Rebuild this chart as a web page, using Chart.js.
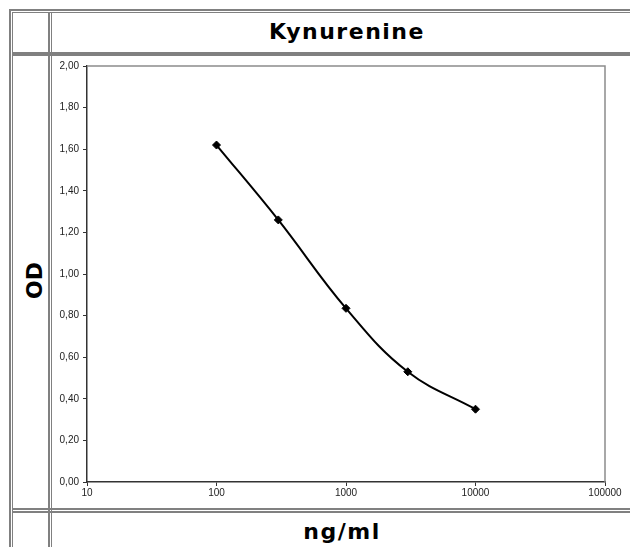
<!DOCTYPE html>
<html>
<head>
<meta charset="utf-8">
<script src="https://cdn.jsdelivr.net/npm/chart.js@4/dist/chart.umd.min.js"></script>
<style>
  body { margin: 0; background: #fff; overflow: hidden; }
  #page { position: relative; width: 630px; height: 547px; overflow: hidden; }
  .ln { position: absolute; background: #808080; }
  .cap { position: absolute; font-family: "DejaVu Sans", Verdana, sans-serif; font-weight: bold; font-size: 22px; color: #000; text-align: center; letter-spacing: 1.5px; }
  #chartBox { position: absolute; left: 52px; top: 56px; width: 578px; height: 451px; }
</style>
</head>
<body>
<div id="page">
  <!-- table frame -->
  <div class="ln" style="left:9px;top:9px;width:640px;height:2px"></div>
  <div class="ln" style="left:12px;top:12px;width:640px;height:1px"></div>
  <div class="ln" style="left:9px;top:9px;width:2px;height:560px"></div>
  <div class="ln" style="left:12px;top:12px;width:1px;height:560px"></div>
  <div class="ln" style="left:48px;top:12px;width:2px;height:560px"></div>
  <div class="ln" style="left:51px;top:12px;width:1px;height:560px"></div>
  <div class="ln" style="left:12px;top:52px;width:640px;height:4px"></div>
  <div class="ln" style="left:12px;top:508px;width:640px;height:1.5px"></div>
  <div class="ln" style="left:12px;top:511px;width:640px;height:1.5px"></div>

  <div class="cap" style="left:52px;top:19px;width:590px;">Kynurenine</div>
  <div class="cap" style="left:52px;top:519px;width:580px;">ng/ml</div>
  <div class="cap" style="left:17px;top:268px;width:36px;height:26px;transform:rotate(-90deg);letter-spacing:0;">OD</div>

  <div id="chartBox"><canvas id="odChart" width="578" height="451"></canvas></div>
</div>
<script>
const concentrations = [100, 300, 1000, 3000, 10000];
const odValues = [1.62, 1.26, 0.835, 0.53, 0.35];
const xTicks = [10, 100, 1000, 10000, 100000];
const yTicks = [0, 0.2, 0.4, 0.6, 0.8, 1.0, 1.2, 1.4, 1.6, 1.8, 2.0];

// grauer Rahmen oben und rechts um die Zeichenfläche
const plotFrame = {
    id: 'plotFrame',
    beforeDatasetsDraw(chart) {
        const a = chart.chartArea;
        const ctx = chart.ctx;
        ctx.save();
        ctx.strokeStyle = '#8c8c8c';
        ctx.lineWidth = 1.5;
        ctx.beginPath();
        ctx.moveTo(a.left, a.top);
        ctx.lineTo(a.right, a.top);
        ctx.lineTo(a.right, a.bottom);
        ctx.stroke();
        ctx.restore();
    }
};

const tickFont = { family: 'Arial, "Liberation Sans", sans-serif', size: 10 };

new Chart(document.getElementById('odChart'), {
    type: 'line',
    data: {
        datasets: [{
            data: concentrations.map((c, i) => ({ x: c, y: odValues[i] })),
            borderColor: '#000',
            backgroundColor: '#000',
            borderWidth: 2,
            tension: 0.4,
            pointStyle: 'rectRot',
            pointRadius: 4,
            pointBackgroundColor: '#000',
            pointBorderColor: '#000',
            pointBorderWidth: 1
        }]
    },
    options: {
        responsive: false,
        animation: false,
        layout: { padding: { top: 10, right: 25, left: 0, bottom: 0 } },
        plugins: {
            legend: { display: false },
            tooltip: { enabled: false }
        },
        scales: {
            x: {
                type: 'logarithmic',
                min: 10,
                max: 100000,
                afterBuildTicks: (s) => { s.ticks = xTicks.map(v => ({ value: v })); },
                afterFit: (s) => { s.height = 25; },
                ticks: {
                    color: '#222',
                    font: tickFont,
                    padding: 1,
                    maxRotation: 0,
                    autoSkip: false,
                    callback: (v) => String(v)
                },
                grid: { drawOnChartArea: false, drawTicks: true, tickLength: 4, color: '#333' },
                border: { color: '#333', width: 1.5 }
            },
            y: {
                min: 0,
                max: 2,
                afterBuildTicks: (s) => { s.ticks = yTicks.map(v => ({ value: v })); },
                afterFit: (s) => { s.width = 35; },
                ticks: {
                    color: '#222',
                    font: tickFont,
                    padding: 4,
                    callback: (v) => v.toFixed(2).replace('.', ',')
                },
                grid: { drawOnChartArea: false, drawTicks: true, tickLength: 4, color: '#333' },
                border: { color: '#333', width: 1.5 }
            }
        }
    },
    plugins: [plotFrame]
});
</script>
</body>
</html>
